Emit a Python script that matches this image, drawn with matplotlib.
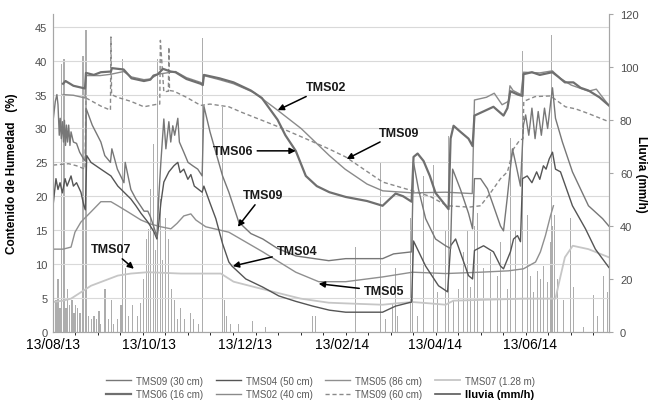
import numpy as np
import matplotlib.pyplot as plt
import pandas as pd

plt.rcParams['font.family'] = ['Liberation Sans', 'DejaVu Sans']

# days counted from 13/08/2013
start = pd.Timestamp('2013-08-13')
tick_dates = pd.to_datetime(['2013-08-13', '2013-10-13', '2013-12-13',
                             '2014-02-13', '2014-04-13', '2014-06-13'])
tick_days = [(d - start).days for d in tick_dates]
tick_labels = [d.strftime('%d/%m/%y') for d in tick_dates]

# soil moisture series (%)
tms09_30_day = [0, 1.5, 2.5, 3.2, 4.0, 4.6, 5.3, 6.0, 6.7, 7.3, 8.0, 8.6, 9.3, 10.0, 10.8, 11.5, 13.0, 15.0,
                17.0, 19.5, 20.6, 21.2, 25, 30.5, 33, 36.6, 37.5, 41, 45.2, 46, 49.6, 52.8, 56, 58, 60.4, 62,
                64.2, 66.2, 67.4, 68.7, 70.6, 71.9, 73.8, 75, 76.3, 77.5, 79.5, 80.5, 83.3, 86, 89, 92.2, 95.0,
                96.1, 100, 103.7, 108, 112, 118.3, 126, 133.6, 143, 154.6, 175.6, 186.4, 209.9, 216.9, 228.4,
                229.6, 232.8, 237.3, 243.6, 250, 253.2, 254.5, 259.5, 264.6, 267.2, 268.4, 272.3, 276.7,
                280.5, 285, 286.9, 289.4, 292.6, 295, 297.7, 299.6, 301, 303, 305, 307, 309, 311, 313, 315,
                317, 318.1, 320, 324.4, 330.8, 341, 350, 354]
tms09_30_val = [31.0, 34.0, 35.0, 33.5, 29.0, 31.5, 28.5, 31.0, 28.0, 31.2, 27.5, 30.5, 28.0, 30.5, 27.5, 29.5,
                28.0, 27.8, 26.5, 25.5, 25.2, 32.9, 30.5, 28.0, 26.0, 25.0, 27.0, 24.0, 22.0, 25.0, 21.0, 19.6,
                18.5, 17.8, 17.8, 17.0, 15.5, 14.0, 20.0, 25.0, 31.4, 27.0, 31.0, 28.0, 30.4, 29.0, 31.5, 28.0,
                26.5, 25.0, 24.5, 24.0, 23.0, 33.3, 29.5, 26.5, 23.0, 20.6, 16.2, 14.5, 13.7, 12.3, 11.2, 10.5,
                10.8, 10.8, 11.5, 11.8, 25.0, 21.0, 16.7, 13.7, 12.7, 12.3, 24.0, 21.0, 17.5, 15.2, 22.6, 22.6,
                21.1, 18.6, 15.6, 14.9, 20.0, 27.0, 24.5, 21.5, 30.5, 32.0, 29.0, 33.0, 28.5, 32.5, 29.0, 33.0,
                30.0, 34.0, 36.0, 31.5, 28.0, 23.6, 18.6, 16.7, 15.6]

tms04_day = [0, 1.9, 3.2, 4.5, 6.0, 7.7, 9.0, 11.5, 13.0, 15.0, 17.8, 19.7, 20.6, 21.5, 24.2, 30.5, 36.9,
             41.3, 49.6, 52.8, 56, 60.4, 64.2, 66.2, 67.4, 68.7, 70.6, 73.8, 77.0, 79.5, 81, 83.3, 85.9,
             87.8, 90, 95.0, 96.1, 100, 103.7, 108, 112, 114, 122.8, 133.6, 143.8, 154.6, 165.4, 176,
             186.4, 209.9, 218.2, 228.4, 229.6, 237.3, 245.5, 251.3, 253.2, 256.4, 264.6, 267.2, 268.4,
             274.2, 280.5, 285, 286.9, 291.3, 293.3, 295.8, 297.7, 299, 302, 305, 308, 310, 312.3, 314,
             316, 318.1, 320, 323.2, 330.8, 339.1, 345.4, 354]
tms04_val = [18.5, 22.6, 21.0, 22.0, 20.5, 22.6, 21.5, 23.0, 21.5, 22.0, 20.6, 18.6, 18.0, 26.0, 25.0, 24.0,
             23.0, 21.5, 19.6, 18.6, 17.5, 16.2, 14.8, 13.7, 16.0, 19.0, 22.1, 23.6, 24.5, 25.0, 23.5, 24.0,
             22.5, 23.2, 21.5, 20.6, 21.5, 19.0, 16.7, 13.0, 10.3, 9.7, 7.8, 6.6, 5.3, 4.5, 3.8, 3.2, 2.9,
             2.9, 3.8, 4.4, 13.4, 9.7, 6.8, 5.9, 12.7, 13.7, 8.3, 7.8, 12.0, 12.7, 11.8, 9.7, 9.3, 11.8,
             13.7, 14.2, 13.3, 22.6, 23.0, 22.0, 23.6, 22.5, 24.5, 24.0, 25.5, 26.5, 24.0, 23.6, 18.6, 15.2,
             12.2, 9.5]

tms05_day = [0, 6.4, 11.5, 14, 17.8, 24.2, 30.5, 36.9, 41.3, 47.7, 56, 62.3, 68.7, 75.1, 79, 83.3, 87.8,
             91, 94.1, 97.3, 112, 133.6, 154.6, 169.2, 186.4, 209.9, 229, 250, 272.3, 290, 299.6, 307.3,
             310.4, 313.6, 316.8, 318.7]
tms05_val = [12.2, 12.2, 12.5, 14.7, 16.2, 17.7, 19.2, 19.2, 18.6, 17.7, 16.5, 15.9, 15.5, 15.2, 16.0, 17.1,
             17.4, 16.5, 16.0, 15.5, 14.7, 11.8, 8.8, 7.4, 7.4, 8.1, 8.8, 8.6, 8.8, 9.0, 9.3, 10.3, 11.8,
             14.2, 17.1, 18.6]

tms07_day = [0, 6.4, 11.5, 24.2, 41.3, 49.6, 60.4, 81.4, 106.9, 115, 133.6, 157.8, 175.6, 186.4, 209.9,
             218.2, 229, 240, 250, 255, 270, 300, 320, 322, 326, 331, 341, 354]
tms07_val = [4.4, 4.6, 4.9, 6.8, 8.3, 8.6, 8.8, 8.6, 8.6, 7.4, 6.3, 4.9, 4.3, 4.2, 4.0, 4.2, 4.4, 4.2, 4.0,
             4.6, 4.7, 4.9, 4.9, 7.0, 11.0, 12.7, 12.2, 11.0]

tms06_day = [6.4, 8, 13, 20.4, 21.0, 26, 30.5, 36.9, 37.5, 45, 50, 57.9, 62, 64, 66.8, 70, 75, 78, 85, 94,
             95.4, 96.1, 106, 115, 126, 133, 143, 148, 154.6, 161, 168, 176, 186.4, 200, 209.9, 214, 218.2,
             223, 228.4, 229.6, 232.2, 236, 240, 243.6, 251.9, 253.2, 255.1, 259.5, 264.6, 267.2, 268.4,
             274, 280.5, 286.9, 289.4, 291.3, 296, 299, 299.6, 305, 310, 318, 321.9, 326, 331.4, 336, 341,
             348, 354]
tms06_val = [36.6, 37.0, 36.3, 35.9, 38.2, 37.9, 38.3, 38.4, 38.9, 38.7, 37.4, 37.0, 37.2, 37.8, 38.0, 38.8,
             38.4, 38.3, 37.3, 36.6, 36.4, 37.9, 37.4, 36.8, 35.6, 34.5, 31.3, 29.0, 26.7, 23.0, 21.5, 20.6,
             19.9, 19.3, 18.6, 19.5, 20.4, 20.0, 19.2, 25.8, 26.3, 25.2, 23.0, 20.5, 18.1, 28.5, 30.4, 29.5,
             28.5, 27.4, 31.9, 32.5, 33.2, 31.9, 33.0, 35.5, 35.0, 34.8, 38.0, 38.3, 37.9, 38.3, 37.6, 36.8,
             36.8, 36.0, 35.6, 34.6, 33.4]

tms02_day = [6.4, 13, 20.4, 21.0, 30, 36.9, 45, 50, 57.9, 62, 66.8, 78, 85, 94, 95.4, 96.1, 106, 115, 128,
             143, 158, 176, 186, 200, 210, 229, 250, 267, 268.4, 276, 281, 286, 290, 291, 293, 298, 299.6,
             310, 318, 323, 330, 341, 346, 354]
tms02_val = [35.0, 34.9, 34.5, 37.8, 37.8, 38.0, 38.4, 37.6, 37.2, 37.3, 38.0, 38.4, 37.5, 36.8, 36.6, 37.8,
             37.2, 36.6, 35.3, 32.7, 30.0, 26.0, 24.0, 21.8, 20.8, 20.5, 20.6, 20.4, 34.2, 34.6, 35.2, 33.5,
             34.0, 36.3, 35.6, 35.0, 38.3, 38.2, 38.5, 37.4, 36.4, 35.5, 35.8, 33.4]

tms09_60_day = [0, 10, 15, 20.4, 21.0, 25, 30.5, 36.6, 36.9, 37.3, 41, 49.6, 57.9, 66.8, 68.0, 68.4, 70.6,
                73.5, 73.8, 74.2, 77, 85, 94.1, 100, 112, 120, 141.9, 160.9, 175.6, 186.4, 209.9, 229, 240,
                251, 265, 272.3, 278.6, 285, 289.4, 293.3, 297, 299.3, 299.8, 307, 316.8, 326.3, 332.7, 341,
                354]
tms09_60_val = [24.6, 24.8, 24.5, 24.0, 34.5, 34.0, 33.3, 32.7, 43.5, 35.0, 34.6, 34.0, 33.2, 33.6, 33.6,
                43.0, 35.4, 35.5, 42.0, 35.6, 35.5, 34.6, 33.4, 33.6, 33.2, 32.4, 30.4, 28.5, 27.0, 25.8,
                22.1, 20.8, 20.0, 18.6, 18.4, 18.6, 20.5, 22.6, 23.6, 27.0, 28.2, 28.5, 34.0, 34.7, 34.8,
                33.2, 32.9, 32.2, 31.0]

# rainfall (mm/h)
rain_day = [0.6, 1.9, 3.2, 4.5, 5.7, 7.0, 8.3, 9.5, 10.8, 12.1, 13.4, 14.6, 15.9, 17.2, 19.1, 21.0, 22.9,
            24.8, 26.1, 28.0, 29.3, 30.5, 33.1, 35.6, 37.5, 38.8, 41.3, 43.3, 44.5, 46.4, 48.3, 50.9, 54.1,
            56.0, 57.9, 59.8, 61.1, 62.3, 64.2, 65.5, 66.8, 68.7, 70.0, 71.9, 73.8, 75.7, 77.6, 79.5, 81.4,
            84.0, 87.8, 89.7, 92.9, 95.4, 108.1, 109.4, 110.7, 113.2, 118.3, 127.2, 135.5, 165.4, 167.3,
            192.7, 208.7, 211.8, 216.3, 218.2, 219.5, 227.7, 229.0, 232.2, 236.0, 242.4, 244.9, 250.0,
            251.9, 255.1, 258.3, 261.5, 264.0, 265.9, 268.4, 270.4, 274.2, 278.6, 283.1, 285.0, 289.4,
            291.3, 294.5, 299.0, 302.2, 304.1, 306.0, 308.5, 310.4, 312.3, 314.9, 316.8, 317.4, 318.1,
            319.3, 321.2, 325.1, 329.5, 331.4, 337.8, 344.1, 346.7, 350.5, 353.1]
rain_val = [63, 12, 20, 9, 101, 103, 9, 16, 10, 12, 7, 10, 9, 7, 104, 114, 6, 5, 6, 5, 8, 3, 16, 5, 12, 3, 5,
            10, 103, 24, 6, 10, 6, 11, 20, 35, 39, 54, 71, 31, 103, 50, 27, 43, 35, 16, 12, 5, 9, 5, 7, 5,
            3, 111, 85, 12, 6, 3, 3, 4, 2, 6, 6, 32, 64, 5, 11, 24, 6, 43, 58, 6, 59, 63, 15, 38, 74, 12,
            16, 30, 38, 17, 40, 45, 24, 30, 21, 34, 16, 73, 38, 106, 44, 21, 15, 23, 20, 25, 19, 34, 112,
            40, 44, 20, 12, 43, 17, 2, 14, 6, 21, 15]

fig = plt.figure(figsize=(6.54, 4.14), dpi=100)
ax2 = fig.add_axes([0.081, 0.196, 0.850, 0.768])
ax = ax2.twinx()
ax.yaxis.tick_left()
ax.yaxis.set_label_position('left')
ax2.yaxis.tick_right()
ax2.yaxis.set_label_position('right')

# rain bars on the right axis
ax2.bar(rain_day, rain_val, width=0.7, color='#adadad', linewidth=0)
ax2.set_ylim(0, 120)
ax2.set_yticks(np.arange(0, 121, 20))

grey = '#d9d9d9'
ax.plot(tms07_day, tms07_val, color='#c6c6c6', lw=1.3, label='TMS07 (1.28 m)')
ax.plot(tms05_day, tms05_val, color='#8f8f8f', lw=1.0, label='TMS05 (86 cm)')
ax.plot(tms09_60_day, tms09_60_val, color='#8a8a8a', lw=1.0, dashes=(3, 2), label='TMS09 (60 cm)')
ax.plot(tms02_day, tms02_val, color='#8a8a8a', lw=1.0, label='TMS02 (40 cm)')
ax.plot(tms06_day, tms06_val, color='#6f6f6f', lw=1.6, label='TMS06 (16 cm)')
ax.plot(tms04_day, tms04_val, color='#555555', lw=1.0, label='TMS04 (50 cm)')
ax.plot(tms09_30_day, tms09_30_val, color='#777777', lw=1.0, label='TMS09 (30 cm)')
ax.set_ylim(0, 46.9)
ax.set_yticks(np.arange(0, 46, 5))
ax.set_xlim(0, 354)

# grid
ax.set_xticks(tick_days)
ax.set_xticklabels(tick_labels, fontweight='bold', fontsize=7.5, color='#262626')
ax.set_xticks(np.arange(0, 355, 14.33), minor=True)
ax.grid(True, which='major', axis='y', color=grey, lw=0.8, zorder=0)
ax.grid(True, which='minor', axis='x', color=grey, lw=0.8, zorder=0)
ax.tick_params(axis='x', which='both', length=0, pad=5)
ax.tick_params(axis='y', length=0, labelsize=8, labelcolor='#4d4d4d', pad=4)
ax2.tick_params(axis='y', length=3, color='#a6a6a6', labelsize=8, labelcolor='#4d4d4d', pad=5)
ax2.tick_params(axis='x', length=0)

for a in (ax, ax2):
    a.spines['top'].set_visible(False)
    for s in ('left', 'right', 'bottom'):
        a.spines[s].set_color('#a6a6a6')
        a.spines[s].set_linewidth(0.8)

ax.set_ylabel('Contenido de Humedad   (%)', fontsize=8.5, fontweight='bold')
ax.yaxis.set_label_coords(-0.063, 0.5)
ax2.set_ylabel('Lluvia (mm/h)', fontsize=8.5, fontweight='bold', rotation=270, va='center')
ax2.yaxis.set_label_coords(1.058, 0.5)

# labels with arrows
arrow = dict(arrowstyle='-|>', color='black', lw=1.1, mutation_scale=9, shrinkA=1, shrinkB=0)
notes = [('TMS02', (143.1, 32.7), (173.7, 36.1)),
         ('TMS09', (187.0, 25.5), (220.1, 29.4)),
         ('TMS06', (154.6, 26.7), (114.5, 26.7)),
         ('TMS09', (117.7, 15.5), (133.6, 20.2)),
         ('TMS04', (114.5, 9.7), (155.2, 11.9)),
         ('TMS05', (169.2, 7.1), (210.6, 6.0)),
         ('TMS07', (51.5, 9.3), (36.9, 12.2))]
for txt, xy, xytext in notes:
    ax.annotate(txt, xy=xy, xytext=xytext, ha='center', va='center', fontsize=9,
                fontweight='bold', color='#1a1a1a', arrowprops=arrow)

# legend (two rows, filled column-wise)
h = {l.get_label(): l for l in ax.get_lines()}
rain_handle = plt.Line2D([], [], color='#595959', lw=1.2)
handles = [h['TMS09 (30 cm)'], h['TMS06 (16 cm)'], h['TMS04 (50 cm)'], h['TMS02 (40 cm)'],
           h['TMS05 (86 cm)'], h['TMS09 (60 cm)'], h['TMS07 (1.28 m)'], rain_handle]
labels = ['TMS09 (30 cm)', 'TMS06 (16 cm)', 'TMS04 (50 cm)', 'TMS02 (40 cm)',
          'TMS05 (86 cm)', 'TMS09 (60 cm)', 'TMS07 (1.28 m)', 'lluvia (mm/h)']
leg = fig.legend(handles, labels, loc='center', bbox_to_anchor=(0.49, 0.062), ncol=4, frameon=False,
                 fontsize=7, columnspacing=1.3, handlelength=2.6, handletextpad=0.5, labelspacing=0.35)
for t in leg.get_texts():
    t.set_color('#595959')
leg.get_texts()[-1].set_fontweight('bold')
leg.get_texts()[-1].set_color('black')
leg.get_texts()[-1].set_fontsize(8)

fig.savefig('out.png', dpi=100)
